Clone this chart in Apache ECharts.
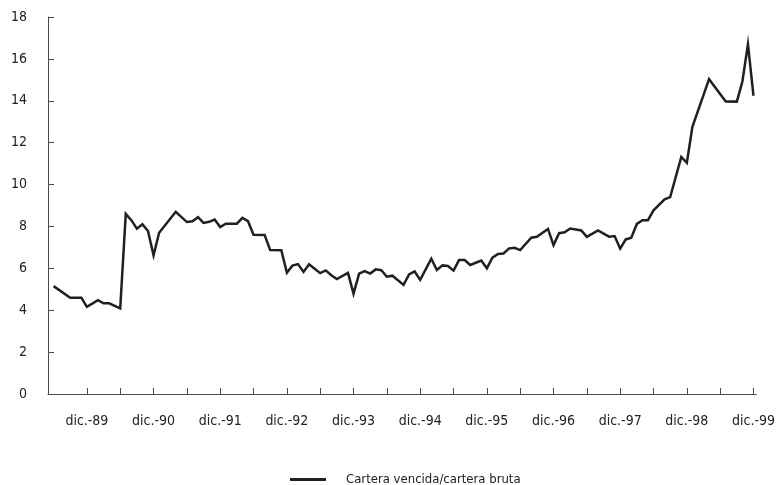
<!DOCTYPE html>
<html>
<head>
<meta charset="utf-8">
<script src="https://cdn.jsdelivr.net/npm/echarts@6/dist/echarts.min.js"></script>
<style>
  html, body { margin: 0; padding: 0; background: #ffffff; }
  #chart { width: 778px; height: 485px; }
</style>
</head>
<body>
<div id="chart"></div>
<script>
// Observation months (YYYY-MM)
const periods = [
  '1989-06','1989-09','1989-11','1989-12',
  '1990-02','1990-03','1990-04','1990-06','1990-07','1990-08','1990-09','1990-10','1990-11','1990-12',
  '1991-01','1991-04','1991-06','1991-07','1991-08','1991-09','1991-10','1991-11','1991-12',
  '1992-01','1992-03','1992-04','1992-05','1992-06','1992-08','1992-09','1992-11','1992-12',
  '1993-01','1993-02','1993-03','1993-04','1993-05','1993-06','1993-07','1993-08','1993-09','1993-11','1993-12',
  '1994-01','1994-02','1994-03','1994-04','1994-05','1994-06','1994-07','1994-09','1994-10','1994-11','1994-12',
  '1995-02','1995-03','1995-04','1995-05','1995-06','1995-07','1995-08','1995-09','1995-11','1995-12',
  '1996-01','1996-02','1996-03','1996-04','1996-05','1996-06','1996-08','1996-09','1996-11','1996-12',
  '1997-01','1997-02','1997-03','1997-05','1997-06','1997-08','1997-10','1997-11','1997-12',
  '1998-01','1998-02','1998-03','1998-04','1998-05','1998-06','1998-08','1998-09','1998-11','1998-12',
  '1999-01','1999-04','1999-07','1999-09','1999-10','1999-11','1999-12'
];
// Cartera vencida / cartera bruta (%)
const ratio = [
  5.15, 4.60, 4.60, 4.16,
  4.48, 4.33, 4.33, 4.09, 8.60, 8.30, 7.89, 8.10, 7.78, 6.62,
  7.70, 8.70, 8.21, 8.25, 8.44, 8.17, 8.22, 8.33, 7.97,
  8.13, 8.13, 8.41, 8.25, 7.60, 7.59, 6.87, 6.86, 5.79,
  6.13, 6.20, 5.83, 6.19, 5.98, 5.77, 5.90, 5.67, 5.49, 5.78, 4.79,
  5.75, 5.87, 5.75, 5.95, 5.91, 5.60, 5.65, 5.21, 5.71, 5.85, 5.45,
  6.46, 5.92, 6.14, 6.11, 5.89, 6.40, 6.40, 6.16, 6.37, 6.00,
  6.51, 6.69, 6.71, 6.95, 6.98, 6.87, 7.46, 7.51, 7.88, 7.11,
  7.68, 7.72, 7.90, 7.81, 7.50, 7.81, 7.51, 7.54, 6.94,
  7.38, 7.46, 8.12, 8.30, 8.30, 8.77, 9.29, 9.40, 11.32, 11.04,
  12.76, 15.03, 13.97, 13.96, 14.92, 16.70, 14.24
];
const xTickLabels = ['dic.-89','dic.-90','dic.-91','dic.-92','dic.-93','dic.-94','dic.-95','dic.-96','dic.-97','dic.-98','dic.-99'];
const seriesName = 'Cartera vencida/cartera bruta';

// month index relative to Dec-1989
function monthIndex(p) {
  const [y, m] = p.split('-').map(Number);
  return (y - 1989) * 12 + (m - 12);
}
const seriesData = periods.map((p, i) => [monthIndex(p), ratio[i]]);
const labelValues = xTickLabels.map((_, i) => i * 12);
const tickValues = [];
for (let v = 0; v <= 120; v += 6) tickValues.push(v);

const FONT = '"Liberation Sans Narrow", "DejaVu Sans Condensed", "Arial Narrow", sans-serif';
const AXIS_COLOR = '#4a4a4a';
const LINE_COLOR = '#231f20';

const chart = echarts.init(document.getElementById('chart'), null, { renderer: 'canvas' });
chart.setOption({
  animation: false,
  backgroundColor: '#ffffff',
  grid: { left: 48, top: 17, width: 709, height: 377, containLabel: false },
  legend: {
    data: [seriesName],
    left: 285,
    top: 468,
    icon: 'rect',
    itemWidth: 36,
    itemHeight: 3,
    itemStyle: { color: LINE_COLOR },
    textStyle: { fontFamily: FONT, fontSize: 13, color: '#222', padding: [0, 0, 0, 15] }
  },
  xAxis: {
    type: 'value',
    min: -7,
    max: 120.5,
    axisLine: { show: true, onZero: false, lineStyle: { color: AXIS_COLOR, width: 1 } },
    axisTick: { show: true, inside: true, length: 6, customValues: tickValues, lineStyle: { color: AXIS_COLOR } },
    splitLine: { show: false },
    axisLabel: {
      customValues: labelValues,
      margin: 20,
      fontFamily: FONT,
      fontSize: 14,
      color: '#222',
      formatter: v => xTickLabels[Math.round(v / 12)]
    }
  },
  yAxis: {
    type: 'value',
    min: 0,
    max: 18,
    interval: 2,
    axisLine: { show: true, onZero: false, lineStyle: { color: AXIS_COLOR, width: 1 } },
    axisTick: { show: true, inside: true, length: 6, lineStyle: { color: AXIS_COLOR } },
    splitLine: { show: false },
    axisLabel: { margin: 21, fontFamily: FONT, fontSize: 14, color: '#222' }
  },
  series: [{
    name: seriesName,
    type: 'line',
    data: seriesData,
    symbol: 'none',
    lineStyle: { color: LINE_COLOR, width: 2.5, join: 'miter' },
    itemStyle: { color: LINE_COLOR }
  }]
});
</script>
</body>
</html>
